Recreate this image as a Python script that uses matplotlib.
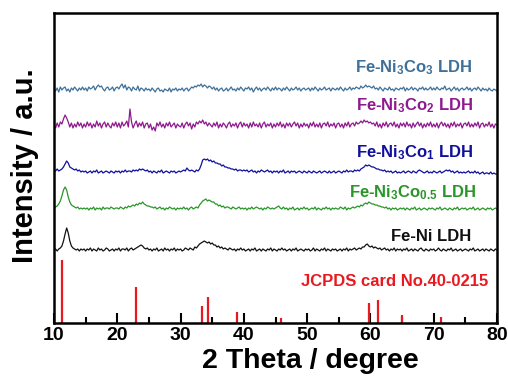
import numpy as np
import matplotlib
matplotlib.use("Agg")
import matplotlib.pyplot as plt

plt.rcParams['font.family'] = ['Liberation Sans', 'DejaVu Sans']
plt.rcParams['mathtext.fontset'] = 'custom'
plt.rcParams['mathtext.rm'] = 'Liberation Sans:bold'
plt.rcParams['mathtext.bf'] = 'Liberation Sans:bold'
plt.rcParams['mathtext.it'] = 'Liberation Sans:bold'

# 2-theta grid (0.25 degree step)
two_theta = np.arange(10, 80.001, 0.25)

fe_ni = [0,1,-1,1,2,4,9,16,22,17,9,4,2,1,0,1,-1,1,0,1,
         -1,1,0,2,-1,1,0,-1,2,0,1,-1,0,2,1,-1,0,1,-1,1,
         0,2,-1,1,1,0,2,-1,1,2,0,1,2,3,4,5,4,2,1,2,
         0,1,-1,1,0,2,-1,0,1,-1,2,0,1,-1,1,0,2,-1,1,0,
         1,-1,0,2,1,0,2,1,0,3,2,4,6,7,8,9,8,7,8,6,
         7,5,5,3,4,2,3,1,2,1,0,2,1,0,1,-1,1,0,2,0,
         1,-1,0,1,-1,1,0,2,-1,0,1,-1,1,0,-1,1,0,2,-1,1,
         0,-1,1,0,2,0,1,-1,0,1,-1,1,0,2,-1,0,1,0,-1,1,
         0,1,-1,0,2,-1,1,0,-1,1,0,2,-1,1,0,-1,1,0,1,-1,
         0,1,-1,1,0,2,-1,1,0,1,2,0,1,2,1,3,3,5,6,4,
         3,4,2,3,2,1,2,0,1,2,0,1,-1,1,0,2,-1,1,0,1,
         -1,1,0,2,-1,0,1,-1,1,0,-1,1,2,0,-1,1,0,-1,1,0,
         1,-1,0,2,0,-1,1,0,-1,1,0,2,-1,0,1,-1,0,1,-1,0,
         1,0,-1,1,0,2,-1,0,1,-1,0,1,-1,1,0,-1,1,0,-1,1,
         0]
co05 = [1,2,3,5,8,13,19,22,19,12,7,4,3,2,1,2,0,1,0,1,
        0,1,-1,1,0,2,-1,1,0,1,-1,2,0,1,1,0,2,1,0,1,
        1,0,2,1,0,2,1,3,2,3,4,3,5,4,6,5,7,5,4,3,
        3,2,2,1,2,0,1,2,0,1,-1,1,0,2,1,0,1,-1,1,0,
        1,0,2,0,1,-1,1,2,0,1,2,1,4,6,8,9,10,8,9,8,
        7,7,5,5,3,4,2,3,1,2,2,1,0,2,1,0,1,2,0,1,
        0,1,-1,1,0,2,0,1,2,1,0,1,-1,1,0,2,1,0,1,0,
        1,2,3,1,0,2,0,1,-1,1,0,2,-1,0,1,-1,1,0,2,0,
        1,-1,0,1,0,2,-1,1,0,-1,1,0,2,0,1,-1,1,0,1,0,
        0,2,1,0,2,-1,1,0,1,2,1,2,3,2,4,3,5,6,5,7,
        6,5,5,4,4,3,3,2,2,1,2,0,1,-1,1,0,1,-1,0,1,
        0,1,-1,1,0,-1,1,0,2,-1,0,1,-1,0,1,0,-1,1,0,1,
        0,-1,1,0,2,-1,0,1,0,-1,1,0,-1,1,0,2,-1,0,1,0,
        1,-1,0,1,0,2,-1,0,1,-1,0,1,0,-1,1,0,1,-1,0,1,
        0]
co1 = [2,1,3,1,2,3,5,8,11,9,5,4,3,2,3,1,2,0,1,0,
       1,-1,0,1,-1,1,0,2,-1,0,1,-1,0,1,0,-1,1,0,-1,1,
       0,1,-1,1,0,2,0,1,1,0,2,1,2,1,3,2,3,2,1,2,
       0,1,-1,1,0,-1,1,0,2,-1,0,1,0,-1,1,0,1,-1,0,1,
       0,1,2,1,4,2,1,2,1,0,2,1,3,7,12,13,12,13,11,12,
       10,11,9,9,8,8,6,7,5,5,4,4,3,3,2,3,1,2,2,1,
       2,1,2,0,1,2,0,1,-1,1,0,2,1,0,1,2,0,1,-1,1,
       0,1,-1,1,0,2,-1,0,1,-1,1,0,1,-1,0,1,0,-1,1,0,
       -1,1,0,-1,1,0,-1,0,1,-1,0,1,0,-1,1,-1,0,1,-1,0,
       1,0,-1,1,0,2,0,1,1,0,2,1,2,1,3,4,5,7,6,7,
       6,5,5,4,3,3,2,2,1,2,0,1,0,1,-1,0,1,-1,0,-1,
       0,1,-1,0,1,0,-1,1,0,-1,1,2,1,0,-1,0,1,-1,0,-1,
       1,0,-1,0,1,-1,0,1,2,1,2,0,1,-1,0,1,-1,0,-1,0,
       -1,0,1,-1,0,-1,1,-1,0,-2,-1,0,-2,-1,-1,-2,0,-2,-1,-2,
       -2]
co2 = [0,-3,2,-2,3,1,6,10,7,3,-2,2,-3,1,-2,3,-1,2,-3,1,
       -2,3,-1,2,-3,1,-2,4,-1,2,-3,1,3,-2,2,-1,-3,2,-1,3,
       -2,2,-3,3,-1,1,4,-2,16,3,-3,1,4,-2,2,-1,3,-3,1,2,
       -3,1,-5,-2,-6,2,-1,3,-2,1,-3,2,-1,3,-2,0,2,-3,1,-1,
       -2,2,-3,1,3,-1,2,-4,1,-2,3,1,4,2,5,1,3,-1,2,0,
       -2,2,-1,3,-3,1,-2,2,0,-3,1,3,-2,1,-1,2,-3,1,3,-2,
       2,-1,1,-3,2,-2,3,-1,1,-2,2,-3,1,3,-2,1,-1,2,-3,1,
       -2,2,-1,3,-2,1,-3,2,-1,2,-2,1,3,-1,2,-3,1,-2,2,-1,
       1,-3,2,-1,3,-2,1,-2,2,-3,1,2,-1,3,-2,1,-1,2,-3,1,
       2,-2,1,-3,2,-1,3,-2,1,2,-1,3,1,2,4,2,5,3,4,2,
       3,1,2,-1,3,-2,1,-3,2,-1,3,-2,1,2,-1,3,-2,1,-3,2,
       -1,2,-2,3,-1,1,-3,2,-2,1,3,-1,2,-3,1,-2,2,-1,3,-2,
       1,-2,2,-3,1,3,-1,2,-2,1,-3,2,-1,3,-2,1,-1,2,-3,1,
       2,-1,3,-2,1,-2,2,-1,3,-3,1,2,-2,1,-1,3,-2,1,-3,1,
       0]
co3 = [0,-2,1,-3,2,-1,1,2,-2,0,-3,1,-1,2,0,-2,1,-1,2,-1,
       1,-2,2,0,1,3,-1,2,4,2,3,0,-2,1,2,-1,0,2,-2,1,
       2,0,3,5,1,4,-1,2,1,-2,2,0,-1,3,-2,1,0,-2,1,-1,
       0,-2,1,-1,-3,0,1,-2,-1,-3,0,-1,-2,1,-3,0,-1,1,-2,0,
       -1,1,-2,0,1,-2,0,2,1,3,2,4,3,5,2,4,3,1,3,2,
       0,2,-1,1,-2,0,1,-2,-1,1,-2,0,2,-1,0,-2,1,-1,2,0,
       -2,1,0,2,-1,1,-3,0,2,-1,1,-2,0,1,-1,2,0,-2,1,-1,
       2,-1,1,0,-2,1,-1,2,0,-2,1,-1,0,2,-1,1,-2,0,1,-1,
       0,1,-2,1,-1,2,0,-2,1,-1,0,2,-1,0,1,-2,1,0,-1,1,
       -1,2,0,-2,1,-1,0,2,-1,1,0,2,1,0,3,1,2,4,2,3,
       2,1,3,0,1,-1,2,0,-2,1,0,-1,2,-1,0,-2,1,0,-1,1,
       0,2,-2,1,-1,0,2,-1,1,0,-2,1,0,2,-1,1,-1,0,2,-1,
       1,-1,2,0,-1,1,0,3,-1,0,1,-2,0,2,-1,1,-2,0,1,-1,
       0,2,-1,1,-2,0,1,-1,2,0,-2,1,-1,0,-2,1,-1,-2,0,-1,
       -2]

series = [fe_ni, co05, co1, co2, co3]
labels = ['Fe-Ni LDH', r'Fe-Ni$_{3}$Co$_{0.5}$ LDH', r'Fe-Ni$_{3}$Co$_{1}$ LDH',
          r'Fe-Ni$_{3}$Co$_{2}$ LDH', r'Fe-Ni$_{3}$Co$_{3}$ LDH']
colors = ['#111111', '#2a962a', '#10109c', '#8e1a8e', '#3f7099']
offsets = [73, 114, 151, 198, 234]
label_pos = [(75.9, 82), (76.8, 126), (76.35, 166), (76.35, 213), (76.2, 251)]

# JCPDS card No.40-0215 reference lines
jcpds_pos = [11.3, 22.95, 33.4, 34.4, 38.9, 45.9, 59.8, 61.2, 65.0, 71.1]
jcpds_int = [100, 57, 27, 41, 17, 8, 32, 37, 13, 10]

fig = plt.figure(figsize=(5.08, 3.81), dpi=100)
ax = fig.add_axes([54/508, 1-323/381, 443/508, 310/381])

for y, lab, c, off, (lx, ly) in zip(series, labels, colors, offsets, label_pos):
    ax.plot(two_theta, np.array(y) + off, color=c, lw=0.9)
    ax.text(lx, ly, lab, color=c, fontsize=12, fontweight='bold', ha='right', va='baseline')

ax.vlines(jcpds_pos, 0, np.array(jcpds_int) * 0.63, color='#e8191f', lw=1.6)
ax.text(78.6, 37, 'JCPDS card No.40-0215', color='#e8191f', fontsize=12,
        fontweight='bold', ha='right', va='baseline')

ax.set_xlim(10, 80)
ax.set_ylim(0, 310)
ax.set_xticks(np.arange(10, 81, 10))
ax.set_xticks(np.arange(15, 80, 10), minor=True)
ax.set_yticks([])
ax.tick_params(axis='x', which='major', direction='in', length=7, width=1.5,
               labelsize=14, pad=3)
ax.tick_params(axis='x', which='minor', direction='in', length=4, width=1.5)
for lab in ax.get_xticklabels():
    lab.set_fontweight('bold')
for s in ax.spines.values():
    s.set_linewidth(1.8)

fig.text(310/508, 1-368/381, '2 Theta / degree', fontsize=20.5, fontweight='bold',
         ha='center', va='baseline')
fig.text(25/508, 1-166/381, 'Intensity / a.u.', fontsize=21, fontweight='bold',
         ha='center', va='center', rotation=90)

fig.savefig('out.png', dpi=100)
